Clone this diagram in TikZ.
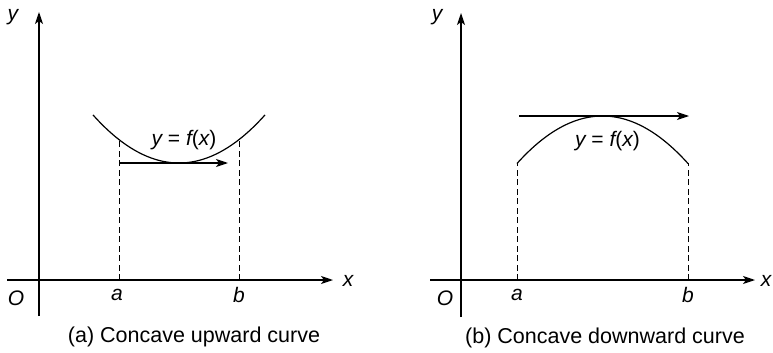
\documentclass[tikz,border=0pt]{standalone}
\usepackage{fontspec}
\setmainfont{Liberation Sans}
\usetikzlibrary{arrows.meta}
\begin{document}
\begin{tikzpicture}[x=1pt,y=-1pt,
  axis/.style={line width=1.3pt,-{Stealth[length=12pt,width=8pt,inset=3pt]}},
  crv/.style={line width=1.2pt},
  tang/.style={line width=1.2pt,-{Stealth[length=12pt,width=8pt,inset=3pt]}},
  dsh/.style={line width=1pt,dash pattern=on 6pt off 3.5pt},
  lbl/.style={inner sep=0pt,font=\fontsize{21}{25}\selectfont\itshape},
  captext/.style={inner sep=0pt,font=\fontsize{21.5}{26}\selectfont}]
\useasboundingbox (0,0) rectangle (773,353);
% ---------- left panel ----------
\coordinate (yb1) at (39,316);
\coordinate (yt1) at (39,12);
\coordinate (xl1) at (7,280);
\coordinate (xr1) at (333,280);
\draw[axis] (yb1) -- (yt1);
\draw[axis] (xl1) -- (xr1);
\coordinate (a1) at (119,280);
\coordinate (b1) at (239,280);
\coordinate (ca1) at (119,139.6);
\coordinate (cb1) at (239,139.6);
\draw[crv] plot[domain=93:265,samples=80,smooth] (\x,{163-0.0065*(\x-179)*(\x-179)});
\draw[dsh] (a1) -- (ca1);
\draw[dsh] (b1) -- (cb1);
\coordinate (ts1) at (119,163);
\coordinate (te1) at (228,163);
\draw[tang] (ts1) -- (te1);
\node[lbl] (ly1) at (13,17) {y};
\node[lbl] (lx1) at (348,281) {x};
\node[lbl] (lo1) at (16,298) {O};
\node[lbl] (la1) at (117,295) {a};
\node[lbl] (lb1) at (239,295) {b};
\node[lbl] (lf1) at (184,140) {y\upshape{} = \itshape f\upshape(\itshape x\upshape)};
\node[captext] (cap1) at (194,337) {(a) Concave upward curve};
% ---------- right panel ----------
\coordinate (yb2) at (461,317);
\coordinate (yt2) at (461,13);
\coordinate (xl2) at (430,280);
\coordinate (xr2) at (755,280);
\draw[axis] (yb2) -- (yt2);
\draw[axis] (xl2) -- (xr2);
\coordinate (a2) at (517,280);
\coordinate (b2) at (688,280);
\coordinate (ca2) at (517,163);
\coordinate (cb2) at (688,163);
\draw[crv] plot[domain=517:688,samples=80,smooth] (\x,{116+0.0065*(\x-602.5)*(\x-602.5)});
\draw[dsh] (a2) -- (ca2);
\draw[dsh] (b2) -- (cb2);
\coordinate (ts2) at (519,116);
\coordinate (te2) at (689,116);
\draw[tang] (ts2) -- (te2);
\node[lbl] (ly2) at (437,17) {y};
\node[lbl] (lx2) at (766,281) {x};
\node[lbl] (lo2) at (445,298) {O};
\node[lbl] (la2) at (517,295) {a};
\node[lbl] (lb2) at (688,295) {b};
\node[lbl] (lf2) at (607.5,141) {y\upshape{} = \itshape f\upshape(\itshape x\upshape)};
\node[captext] (cap2) at (605,338) {(b) Concave downward curve};
\end{tikzpicture}
\end{document}
